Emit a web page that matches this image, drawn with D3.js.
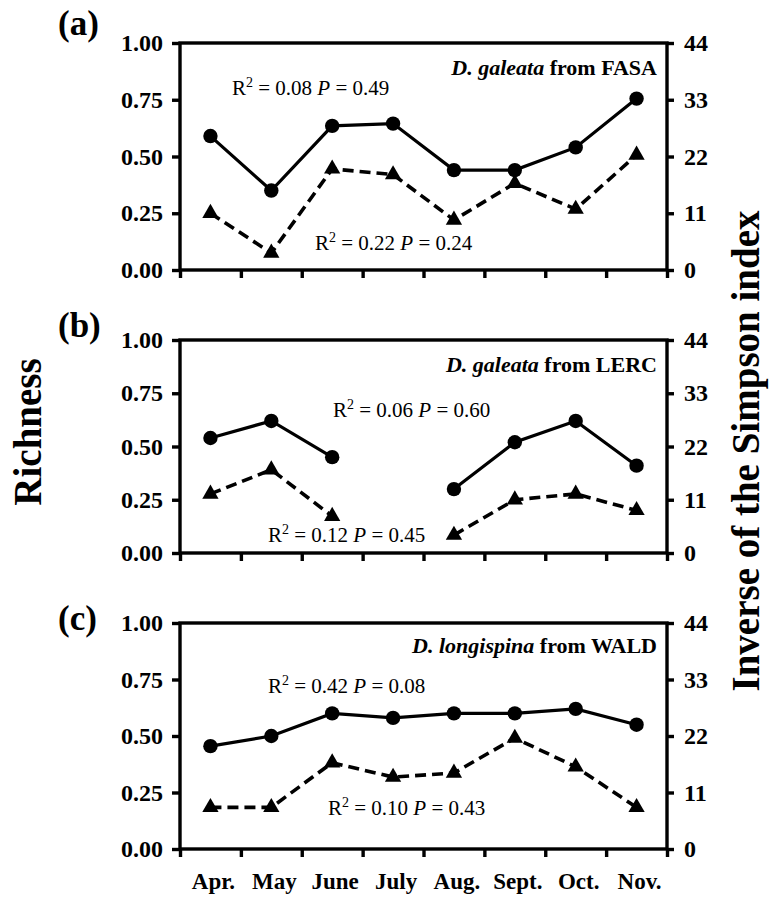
<!DOCTYPE html>
<html>
<head>
<meta charset="utf-8">
<script src="https://cdn.jsdelivr.net/npm/d3@7"></script>
<style>
  html, body { margin: 0; padding: 0; background: #fff; }
  svg { display: block; font-family: "Liberation Serif", "Times New Roman", serif; }
</style>
</head>
<body>
<svg id="chart" width="769" height="901"></svg>
<script>
// ---------------- data ----------------
const months = ["Apr.", "May", "June", "July", "Aug.", "Sept.", "Oct.", "Nov."];
const richnessTicks = [0, 0.25, 0.5, 0.75, 1];
const simpsonTicks = [0, 11, 22, 33, 44];

const panelLabels = ["(a)", "(b)", "(c)"];
const speciesNames = ["D. galeata", "D. galeata", "D. longispina"];
const siteNames = ["FASA", "LERC", "WALD"];

// solid line, circles (left axis, Richness)
const richnessA = [0.59, 0.35, 0.635, 0.645, 0.44, 0.44, 0.54, 0.755];
const richnessB = [0.54, 0.62, 0.45, null, 0.30, 0.52, 0.62, 0.41];
const richnessC = [0.455, 0.50, 0.60, 0.58, 0.60, 0.60, 0.62, 0.55];

// dashed line, triangles (right axis, Inverse of the Simpson index)
const simpsonA = [11.0, 3.3, 19.6, 18.5, 9.7, 16.8, 11.8, 22.3];
const simpsonB = [12.2, 17.2, 7.6, null, 3.7, 11.0, 12.2, 8.8];
const simpsonC = [8.1, 8.1, 16.8, 14.0, 14.8, 21.6, 16.0, 8.1];

// regression statistics
const statsRichness = [["0.08", "0.49"], ["0.06", "0.60"], ["0.42", "0.08"]];
const statsSimpson = [["0.22", "0.24"], ["0.12", "0.45"], ["0.10", "0.43"]];

// ---------------- layout ----------------
const svg = d3.select("#chart");
const left = 180, right = 667;
const panels = [
  {top: 43, bottom: 270, labelY: 35,  titleY: 75,  annR: [232, 95],  annS: [315, 250]},
  {top: 340, bottom: 553, labelY: 337, titleY: 372, annR: [333, 417], annS: [268, 542]},
  {top: 623, bottom: 849, labelY: 630, titleY: 653, annR: [268, 693], annS: [328, 815]}
];
const richnessSeries = [richnessA, richnessB, richnessC];
const simpsonSeries = [simpsonA, simpsonB, simpsonC];

const x = d3.scaleBand().domain(months).range([left, right]).padding(0);
const cx = m => x(m) + x.bandwidth() / 2;

const tickFont = 24;

function statText(g, px, py, vals) {
  const t = g.append("text").attr("x", px).attr("y", py)
    .attr("font-size", 21).attr("fill", "#000");
  t.append("tspan").text("R");
  t.append("tspan").attr("font-size", 14).attr("dy", -8).text("2");
  t.append("tspan").attr("dy", 8).text(" = " + vals[0] + " ");
  t.append("tspan").attr("font-style", "italic").text("P");
  t.append("tspan").text(" = " + vals[1]);
}

panels.forEach((p, i) => {
  const g = svg.append("g");
  const yL = d3.scaleLinear().domain([0, 1]).range([p.bottom, p.top]);
  const yR = d3.scaleLinear().domain([0, 44]).range([p.bottom, p.top]);

  // frame
  g.append("rect").attr("x", left).attr("y", p.top)
    .attr("width", right - left).attr("height", p.bottom - p.top)
    .attr("fill", "none").attr("stroke", "#000").attr("stroke-width", 3.4);

  // left axis
  const la = g.append("g").attr("transform", `translate(${left},0)`)
    .call(d3.axisLeft(yL).tickValues(richnessTicks).tickFormat(d3.format(".2f")).tickSize(8).tickPadding(9));
  // right axis
  const ra = g.append("g").attr("transform", `translate(${right},0)`)
    .call(d3.axisRight(yR).tickValues(simpsonTicks).tickFormat(d3.format("d")).tickSize(7).tickPadding(10));
  // bottom axis (ticks at band boundaries)
  const boundaries = months.map(m => x(m)).concat([right]);
  const ba = g.append("g").attr("transform", `translate(0,${p.bottom})`)
    .call(d3.axisBottom(d3.scaleLinear().domain([left, right]).range([left, right]))
      .tickValues(boundaries).tickSize(8).tickFormat(""));

  [la, ra, ba].forEach(a => {
    a.select(".domain").remove();
    a.selectAll(".tick line").attr("stroke", "#000").attr("stroke-width", 3.4);
    a.selectAll(".tick text").attr("font-size", tickFont).attr("font-weight", "bold")
      .attr("fill", "#000").attr("font-family", "Liberation Serif, Times New Roman, serif");
  });

  // panel label
  g.append("text").attr("x", 58).attr("y", p.labelY).attr("font-size", 35)
    .attr("font-weight", "bold").text(panelLabels[i]);

  // title
  const t = g.append("text").attr("x", right - 10).attr("y", p.titleY)
    .attr("text-anchor", "end").attr("font-size", 22).attr("font-weight", "bold");
  t.append("tspan").attr("font-style", "italic").text(speciesNames[i]);
  t.append("tspan").text(" from " + siteNames[i]);

  // stats
  statText(g, p.annR[0], p.annR[1], statsRichness[i]);
  statText(g, p.annS[0], p.annS[1], statsSimpson[i]);

  // lines
  const rData = months.map((m, k) => ({m, v: richnessSeries[i][k]}));
  const sData = months.map((m, k) => ({m, v: simpsonSeries[i][k]}));

  const lineR = d3.line().defined(d => d.v != null).x(d => cx(d.m)).y(d => yL(d.v));
  const lineS = d3.line().defined(d => d.v != null).x(d => cx(d.m)).y(d => yR(d.v));

  g.append("path").datum(sData).attr("d", lineS).attr("fill", "none")
    .attr("stroke", "#000").attr("stroke-width", 3.6).attr("stroke-dasharray", "11,6");
  g.append("path").datum(rData).attr("d", lineR).attr("fill", "none")
    .attr("stroke", "#000").attr("stroke-width", 3.2);

  g.selectAll(".tri").data(sData.filter(d => d.v != null)).enter().append("path")
    .attr("d", d3.symbol().type(d3.symbolTriangle).size(115))
    .attr("transform", d => `translate(${cx(d.m)},${yR(d.v)})`)
    .attr("fill", "#000");
  g.selectAll(".dot").data(rData.filter(d => d.v != null)).enter().append("circle")
    .attr("cx", d => cx(d.m)).attr("cy", d => yL(d.v)).attr("r", 7.2).attr("fill", "#000");

  // month labels under last panel
  if (i === panels.length - 1) {
    g.selectAll(".mlab").data(months).enter().append("text")
      .attr("x", d => cx(d) + 3).attr("y", 889)
      .attr("text-anchor", "middle").attr("font-size", 23).attr("font-weight", "bold")
      .text(d => d);
  }
});

// axis titles
svg.append("text").attr("transform", "translate(41,432) rotate(-90)")
  .attr("text-anchor", "middle").attr("font-size", 39).attr("font-weight", "bold")
  .text("Richness");
svg.append("text").attr("transform", "translate(759,451) rotate(-90)")
  .attr("text-anchor", "middle").attr("font-size", 39).attr("font-weight", "bold")
  .text("Inverse of the Simpson index");
</script>
</body>
</html>
